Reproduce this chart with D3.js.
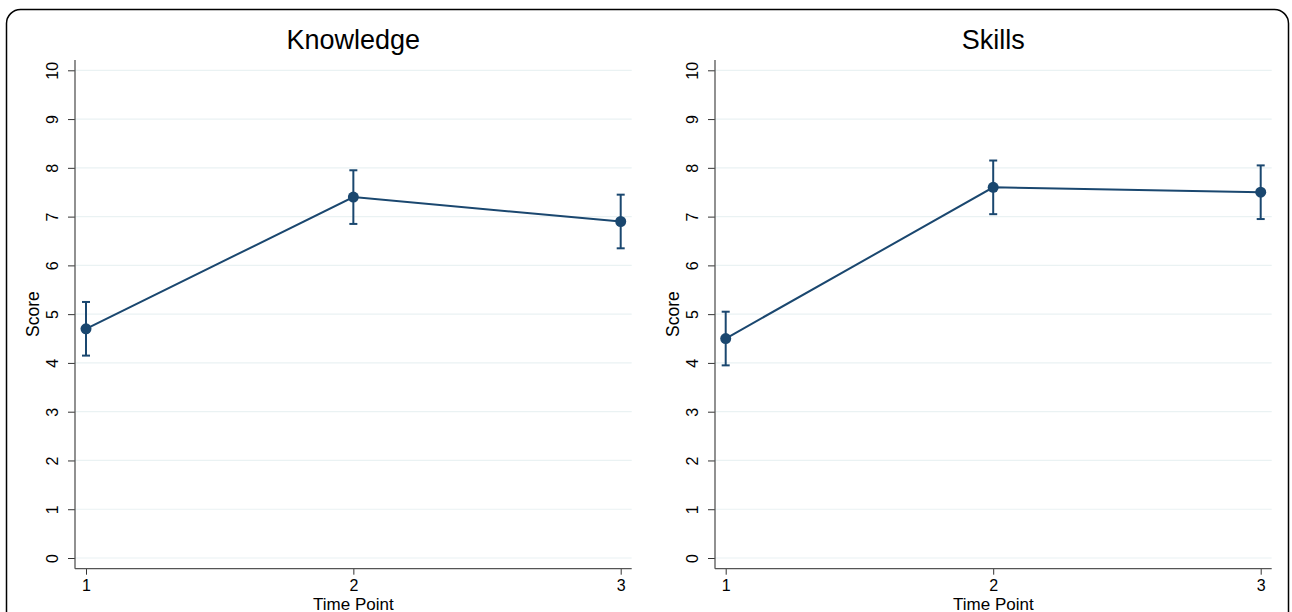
<!DOCTYPE html>
<html><head><meta charset="utf-8">
<script src="https://cdn.jsdelivr.net/npm/d3@7"></script>
<style>body{margin:0;background:#fff;}svg{display:block;font-family:"Liberation Sans",Arial,sans-serif;}</style>
</head><body>
<svg id="c" width="1292" height="612"></svg>
<script>
const timePoints = [1, 2, 3];
const yTicks = [0,1,2,3,4,5,6,7,8,9,10];
const panelTitles = ["Knowledge", "Skills"];
const knowledgeMean = [4.7, 7.4, 6.9];
const knowledgeLow = [4.15, 6.85, 6.35];
const knowledgeHigh = [5.25, 7.95, 7.45];
const skillsMean = [4.5, 7.6, 7.5];
const skillsLow = [3.95, 7.05, 6.95];
const skillsHigh = [5.05, 8.15, 8.05];

const svg = d3.select("#c");
const col = "#1a476f";
const ff = "Liberation Sans, Arial, sans-serif";

svg.append("rect").attr("x",6.5).attr("y",9.5).attr("width",1282).attr("height",640)
  .attr("rx",14).attr("fill","none").attr("stroke","#000").attr("stroke-width",1.5);

const panels = [
  {title:panelTitles[0], mean:knowledgeMean, lo:knowledgeLow, hi:knowledgeHigh, x0:75, x1:631.7, t1:86, t3:620.7},
  {title:panelTitles[1], mean:skillsMean, lo:skillsLow, hi:skillsHigh, x0:715, x1:1271.7, t1:725.7, t3:1260.7}
];
const yTop = 60, yBot = 568.7;
const y = d3.scaleLinear().domain([0,10]).range([558,70.3]);

panels.forEach(p => {
  const x = d3.scaleLinear().domain([1,3]).range([p.t1,p.t3]);
  const g = svg.append("g");
  g.selectAll("line.grid").data(yTicks).join("line").attr("class","grid")
    .attr("x1",p.x0).attr("x2",p.x1).attr("y1",d=>y(d)).attr("y2",d=>y(d))
    .attr("stroke","#eaf2f3").attr("stroke-width",1.2);
  const ya = g.append("g").attr("transform",`translate(${p.x0},0)`)
    .call(d3.axisLeft(y).tickValues(yTicks).tickSize(7).tickSizeOuter(0));
  ya.attr("font-size",null).attr("font-family",null);
  ya.select(".domain").remove();
  ya.append("line").attr("x1",0).attr("x2",0).attr("y1",yTop).attr("y2",yBot).attr("stroke","#555").attr("stroke-width",1.3);
  ya.selectAll(".tick line").attr("stroke","#333");
  ya.selectAll(".tick text").attr("transform","rotate(-90)").attr("x",0).attr("y",-22.5)
    .attr("dy","0.35em").attr("text-anchor","middle").style("font-size","16px").attr("fill","#000")
    .style("font-family",ff);
  const xa = g.append("g").attr("transform",`translate(0,${yBot})`)
    .call(d3.axisBottom(x).tickValues(timePoints).tickSize(6).tickSizeOuter(0).tickPadding(5).tickFormat(d3.format("d")));
  xa.attr("font-size",null).attr("font-family",null);
  xa.select(".domain").remove();
  xa.append("line").attr("x1",p.x0).attr("x2",p.x1).attr("y1",0).attr("y2",0).attr("stroke","#555").attr("stroke-width",1.3);
  xa.selectAll(".tick line").attr("stroke","#333");
  xa.selectAll(".tick text").style("font-size","16px").attr("fill","#000").style("font-family",ff);
  g.append("text").attr("x",(p.x0+p.x1)/2).attr("y",49).attr("text-anchor","middle")
    .style("font-size","27px").attr("fill","#000").text(p.title);
  g.append("text").attr("x",(p.x0+p.x1)/2).attr("y",610).attr("text-anchor","middle")
    .style("font-size","17px").attr("fill","#000").text("Time Point");
  g.append("text").attr("transform",`translate(${p.x0-42},${y(5)}) rotate(-90)`).attr("dy","0.35em")
    .attr("text-anchor","middle").style("font-size","17.5px").attr("fill","#000").text("Score");
  const cap = 4;
  timePoints.forEach((t,i) => {
    const cx = x(t);
    g.append("line").attr("x1",cx).attr("x2",cx).attr("y1",y(p.lo[i])).attr("y2",y(p.hi[i])).attr("stroke",col).attr("stroke-width",2);
    [p.lo[i],p.hi[i]].forEach(v => g.append("line").attr("x1",cx-cap).attr("x2",cx+cap).attr("y1",y(v)).attr("y2",y(v)).attr("stroke",col).attr("stroke-width",2));
  });
  g.append("path").datum(p.mean).attr("fill","none").attr("stroke",col).attr("stroke-width",2)
    .attr("d", d3.line().x((d,i)=>x(timePoints[i])).y(d=>y(d)));
  g.selectAll("circle").data(p.mean).join("circle")
    .attr("cx",(d,i)=>x(timePoints[i])).attr("cy",d=>y(d)).attr("r",5.5).attr("fill",col);
});
</script>
</body></html>
